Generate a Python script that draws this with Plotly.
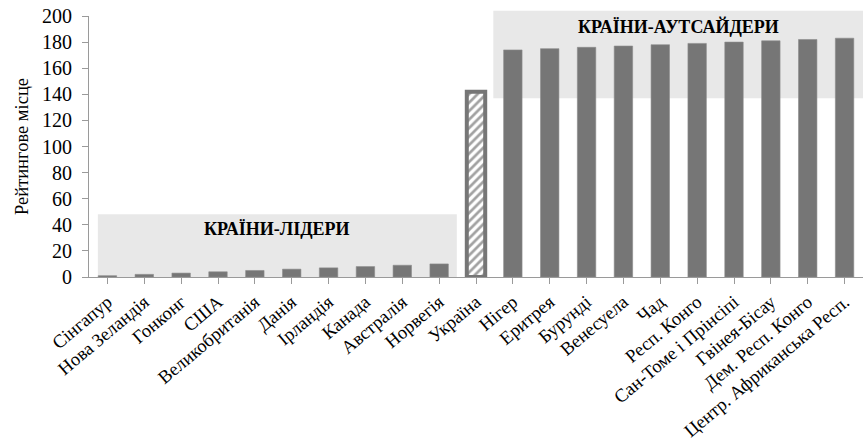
import plotly.graph_objects as go

# Countries and their rating places
countries = [
    "Сінгапур", "Нова Зеландія", "Гонконг", "США", "Великобританія",
    "Данія", "Ірландія", "Канада", "Австралія", "Норвегія", "Україна",
    "Нігер", "Еритрея", "Бурунді", "Венесуела", "Чад", "Респ. Конго",
    "Сан-Томе і Прінсіпі", "Гвінея-Бісау", "Дем. Респ. Конго",
    "Центр. Африканська Респ.",
]
ranks = [1, 2, 3, 4, 5, 6, 7, 8, 9, 10, 142,
         174, 175, 176, 177, 178, 179, 180, 181, 182, 183]
y_ticks = [0, 20, 40, 60, 80, 100, 120, 140, 160, 180, 200]

highlight = "Україна"
BAR = "#767676"
FONT = "Liberation Serif"

patterns = ["/" if c == highlight else "" for c in countries]
line_w = [4 if c == highlight else 0.6 for c in countries]
line_c = [BAR if c == highlight else "#8c8c8c" for c in countries]

fig = go.Figure(go.Bar(
    x=list(range(len(countries))),
    y=ranks,
    width=0.5,
    marker=dict(
        color=[("white" if c == highlight else BAR) for c in countries],
        line=dict(width=line_w, color=line_c),
        pattern=dict(shape=patterns, fgcolor=BAR, bgcolor="white",
                     size=6, solidity=0.45, fillmode="overlay"),
    ),
    showlegend=False,
))

# Shaded group panels
fig.add_shape(type="rect", xref="x", yref="y", x0=-0.26, x1=9.48, y0=0, y1=48,
              fillcolor="#e8e8e8", line=dict(width=0), layer="below")
fig.add_shape(type="rect", xref="x", yref="paper", x0=10.47, x1=20.5,
              y0=137 / 200, y1=1.02,
              fillcolor="#e8e8e8", line=dict(width=0), layer="below")

fig.add_annotation(x=4.6, y=37, xref="x", yref="y", text="<b>КРАЇНИ-ЛІДЕРИ</b>",
                   showarrow=False, font=dict(family=FONT, size=18, color="black"))
fig.add_annotation(x=15.49, y=192, xref="x", yref="y",
                   text="<b>КРАЇНИ-АУТСАЙДЕРИ</b>",
                   showarrow=False, font=dict(family=FONT, size=18, color="black"))

fig.update_layout(
    width=864, height=444,
    margin=dict(l=89, r=1, t=16, b=167),
    plot_bgcolor="white", paper_bgcolor="white",
    font=dict(family=FONT, color="black"),
    bargap=0.5,
)
fig.update_xaxes(
    range=[-0.5, len(countries) - 0.5], automargin=False,
    tickmode="array", tickvals=list(range(len(countries))), ticktext=countries,
    tickangle=-40, tickfont=dict(family=FONT, size=18.5, color="black"),
    ticks="outside", ticklen=6, tickcolor="#9a9a9a", tickson="boundaries",
    showline=True, linecolor="#9a9a9a", linewidth=1,
    showgrid=False, zeroline=False,
)
fig.update_yaxes(
    range=[0, 200], tickvals=y_ticks, automargin=False,
    tickfont=dict(family=FONT, size=20, color="black"),
    ticks="outside", ticklen=6, tickcolor="#9a9a9a", ticklabelstandoff=6,
    showline=True, linecolor="#9a9a9a", linewidth=1,
    showgrid=False, zeroline=False,
    title=dict(text="Рейтингове місце", font=dict(family=FONT, size=18.5, color="black"),
               standoff=8),
)

fig.write_html("out.html")
